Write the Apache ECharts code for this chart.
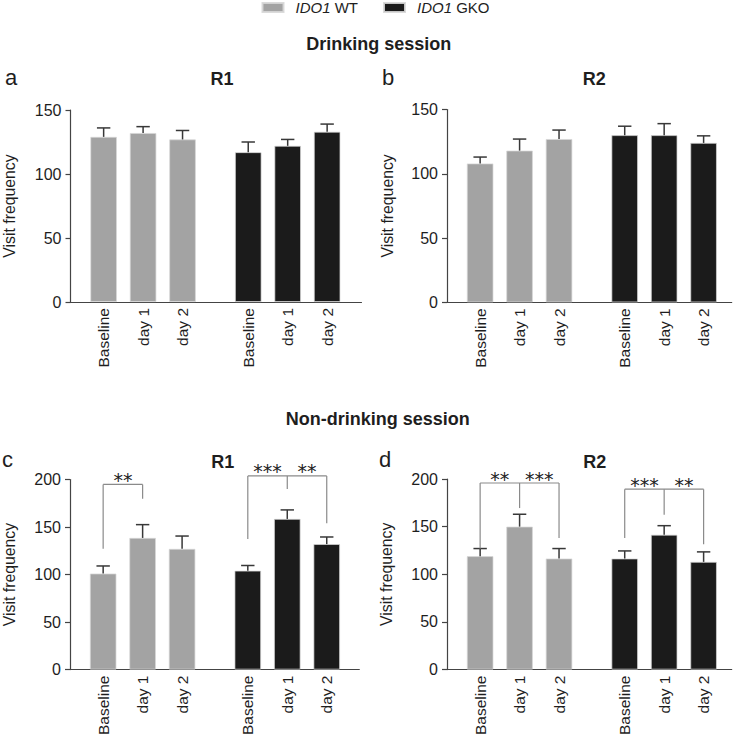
<!DOCTYPE html>
<html>
<head>
<meta charset="utf-8">
<script src="https://cdn.jsdelivr.net/npm/echarts@6/dist/echarts.min.js"></script>
<style>
html,body{margin:0;padding:0;background:#fff;}
#chart{width:738px;height:738px;}
</style>
</head>
<body>
<div id="chart"></div>
<script>
// ---- data ----
const categories = ['Baseline', 'day 1', 'day 2'];
const groupNames = ['IDO1 WT', 'IDO1 GKO'];
const sessionTitles = ['Drinking session', 'Non-drinking session'];
const panelLetters = ['a', 'b', 'c', 'd'];
const panelTitles = ['R1', 'R2', 'R1', 'R2'];
const yAxisName = 'Visit frequency';

// panel a: drinking R1
const wtA = [129, 132, 127];
const wtAErr = [7, 5, 7];
const gkoA = [117, 122, 133];
const gkoAErr = [8, 5, 6];
// panel b: drinking R2
const wtB = [108, 118, 127];
const wtBErr = [5, 9, 7];
const gkoB = [130, 130, 124];
const gkoBErr = [7, 9, 5.5];
// panel c: non-drinking R1
const wtC = [101, 138.5, 127];
const wtCErr = [8, 14, 13.5];
const gkoC = [104, 158.5, 132];
const gkoCErr = [5.5, 9.5, 7.5];
// panel d: non-drinking R2
const wtD = [119, 150, 116.5];
const wtDErr = [8, 13, 10.5];
const gkoD = [116.5, 141.5, 113];
const gkoDErr = [8, 9.5, 10.5];

const yTicksTop = [150, 150, 200, 200];

// significance brackets: bar index 0-5 (WT 0-2, GKO 3-5), leg end values, top value, stars between bars
const bracketsC = [
  {legs: [[0, 127], [1, 179.7]], top: 194.8, stars: [[0, 1, '**']]},
  {legs: [[3, 137.5], [4, 190], [5, 154]], top: 203.8, stars: [[3, 4, '***'], [4, 5, '**']]}
];
const bracketsD = [
  {legs: [[0, 127], [1, 169.5], [2, 138]], top: 195.8, stars: [[0, 1, '**'], [1, 2, '***']]},
  {legs: [[3, 138], [4, 162.5], [5, 131.5]], top: 189.3, stars: [[3, 4, '***'], [4, 5, '**']]}
];

// ---- layout ----
const FONT = "'Liberation Sans', Arial, Helvetica, sans-serif";
const TXT = '#1e1e1e';
const AX = '#444';
const WT_COLOR = '#a3a3a3';
const GKO_COLOR = '#1b1b1b';
const GROUP_GAP = 1.665;
const wtX = categories.map((c, i) => i);
const gkoX = categories.map((c, i) => i + GROUP_GAP + 2);
const allX = wtX.concat(gkoX);
const allLabels = categories.concat(categories);

const panels = [
  {left: 70.5, top: 110, width: 291, height: 192, xmax: 6.536, wt: wtA, wtE: wtAErr, gko: gkoA, gkoE: gkoAErr, br: [], nameGap: 53},
  {left: 447, top: 109.5, width: 284.7, height: 192.8, xmax: 6.377, wt: wtB, wtE: wtBErr, gko: gkoB, gkoE: gkoBErr, br: [], nameGap: 52},
  {left: 70, top: 479.5, width: 289.3, height: 193, xmax: 6.49, wt: wtC, wtE: wtCErr, gko: gkoC, gkoE: gkoCErr, br: bracketsC, nameGap: 53},
  {left: 447, top: 479, width: 284.7, height: 192, xmax: 6.377, wt: wtD, wtE: wtDErr, gko: gkoD, gkoE: gkoDErr, br: bracketsD, nameGap: 53}
];

const grid = [], xAxis = [], yAxis = [], series = [];

panels.forEach((p, k) => {
  grid.push({left: p.left, top: p.top, width: p.width, height: p.height, containLabel: false});
  xAxis.push({
    type: 'value', gridIndex: k, min: -0.84, max: p.xmax,
    axisLine: {show: true, onZero: false, lineStyle: {color: AX, width: 1.2}},
    axisTick: {show: false},
    splitLine: {show: false},
    axisLabel: {
      customValues: allX,
      formatter: function (v) {
        let best = 0;
        allX.forEach((x, i) => { if (Math.abs(x - v) < Math.abs(allX[best] - v)) best = i; });
        return allLabels[best];
      },
      rotate: 90, margin: 6, fontSize: 15.5, fontFamily: FONT, color: TXT
    }
  });
  yAxis.push({
    type: 'value', gridIndex: k, min: 0, max: yTicksTop[k], interval: 50,
    axisLine: {show: true, onZero: false, lineStyle: {color: AX, width: 1.2}},
    axisTick: {show: true, inside: false, length: 5, lineStyle: {color: AX, width: 1.2}},
    splitLine: {show: false},
    axisLabel: {margin: 9, fontSize: 16, fontFamily: FONT, color: TXT},
    name: yAxisName, nameLocation: 'middle', nameGap: p.nameGap,
    nameTextStyle: {fontSize: 15.8, fontFamily: FONT, color: TXT}
  });

  const groups = [
    {name: groupNames[0], xs: wtX, vals: p.wt, errs: p.wtE, color: WT_COLOR},
    {name: groupNames[1], xs: gkoX, vals: p.gko, errs: p.gkoE, color: GKO_COLOR}
  ];
  groups.forEach(g => {
    series.push({
      type: 'bar', name: g.name, xAxisIndex: k, yAxisIndex: k,
      data: g.xs.map((x, i) => [x, g.vals[i]]),
      barWidth: 26.5, barGap: '-100%',
      itemStyle: {color: g.color, borderColor: 'rgba(215,215,215,0.9)', borderWidth: 0.8},
      emphasis: {disabled: true},
      silent: true, z: 2
    });
    series.push({
      type: 'custom', name: g.name + ' err', xAxisIndex: k, yAxisIndex: k,
      data: g.xs.map((x, i) => [x, g.vals[i], g.errs[i]]),
      silent: true, z: 3,
      renderItem: function (params, api) {
        const x = api.value(0), v = api.value(1), e = api.value(2);
        const p0 = api.coord([x, v]);
        const p1 = api.coord([x, v + e]);
        const st = {stroke: '#383838', lineWidth: 1.5};
        return {
          type: 'group',
          children: [
            {type: 'line', shape: {x1: p0[0], y1: p0[1], x2: p1[0], y2: p1[1]}, style: st},
            {type: 'line', shape: {x1: p1[0] - 6.7, y1: p1[1], x2: p1[0] + 6.7, y2: p1[1]}, style: st}
          ]
        };
      }
    });
  });

  if (p.br.length) {
    const brs = p.br;
    series.push({
      type: 'custom', name: 'brackets', xAxisIndex: k, yAxisIndex: k,
      data: brs.map(b => [allX[b.legs[0][0]], b.top]),
      silent: true, z: 4, clip: false,
      renderItem: function (params, api) {
        const b = brs[params.dataIndex];
        const children = [];
        const st = {stroke: '#8a8a8a', lineWidth: 1.2};
        const first = api.coord([allX[b.legs[0][0]], b.top]);
        const last = api.coord([allX[b.legs[b.legs.length - 1][0]], b.top]);
        children.push({type: 'line', shape: {x1: first[0], y1: first[1], x2: last[0], y2: last[1]}, style: st});
        b.legs.forEach(l => {
          const a = api.coord([allX[l[0]], b.top]);
          const c = api.coord([allX[l[0]], l[1]]);
          children.push({type: 'line', shape: {x1: a[0], y1: a[1], x2: c[0], y2: c[1]}, style: st});
        });
        b.stars.forEach(s => {
          const a = api.coord([(allX[s[0]] + allX[s[1]]) / 2, b.top]);
          children.push({
            type: 'text', x: a[0], y: a[1] - 4.5,
            style: {text: s[2], fill: '#222', fontSize: 19, fontFamily: "'DejaVu Sans', sans-serif", align: 'center', verticalAlign: 'middle'}
          });
        });
        return {type: 'group', children: children};
      }
    });
  }
});

const graphicTexts = [];
function addText(text, x, y, size, weight, align) {
  graphicTexts.push({
    type: 'text', x: x, y: y, silent: true,
    style: {text: text, fill: TXT, fontSize: size, fontWeight: weight, fontFamily: FONT, align: align, verticalAlign: 'middle'}
  });
}
addText(sessionTitles[0], 378.8, 43.7, 18, 'bold', 'center');
addText(sessionTitles[1], 377.7, 419, 18, 'bold', 'center');
const letterPos = [[5, 77.3], [382, 77.3], [2, 459.3], [379, 459.3]];
panelLetters.forEach((l, i) => addText(l, letterPos[i][0], letterPos[i][1], 22, 'normal', 'left'));
const titlePos = [[222, 79], [594.2, 78.7], [222.8, 461.5], [594.7, 461.5]];
panelTitles.forEach((t, i) => addText(t, titlePos[i][0], titlePos[i][1], 18, 'bold', 'center'));

const chart = echarts.init(document.getElementById('chart'), null, {renderer: 'svg'});
chart.setOption({
  animation: false,
  backgroundColor: '#fff',
  legend: {
    data: groupNames, left: 261.5, top: 0, padding: 0,
    icon: 'rect', itemWidth: 21, itemHeight: 9, itemGap: 25,
    selectedMode: false,
    formatter: function (name) { return '{s|}' + name.replace('IDO1', '{i|IDO1}'); },
    textStyle: {fontSize: 15, fontFamily: FONT, color: TXT,
      rich: {
        s: {width: 7, fontSize: 15},
        i: {fontStyle: 'italic', fontSize: 15, fontFamily: FONT, color: TXT}
      }}
  },
  grid: grid, xAxis: xAxis, yAxis: yAxis, series: series,
  graphic: graphicTexts
});
</script>
</body>
</html>
